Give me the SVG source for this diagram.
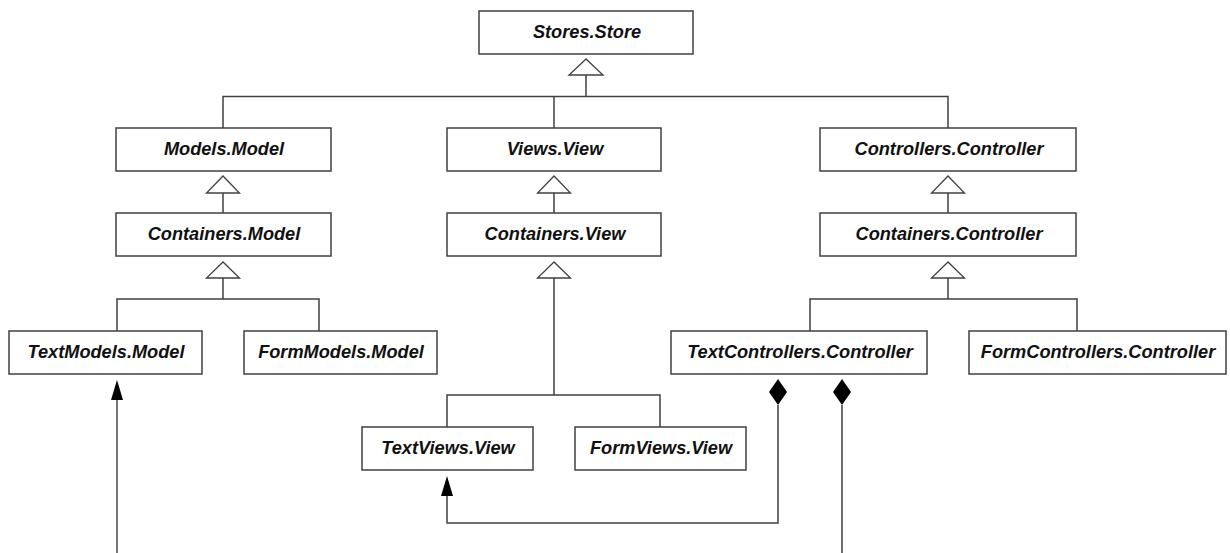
<svg xmlns="http://www.w3.org/2000/svg" width="1230" height="553" viewBox="0 0 1230 553">
  <style>
    .box rect { fill: #ffffff; stroke: #404040; stroke-width: 1.5; }
    .box text { font-family: "Liberation Sans", Arial, sans-serif; font-size: 18.2px; font-weight: bold; font-style: italic; fill: #111111; text-anchor: middle; }
    .line { fill: none; stroke: #404040; stroke-width: 1.5; }
    .thin { fill: none; stroke: #1a1a1a; stroke-width: 1.2; }
    .gen { fill: #ffffff; stroke: #404040; stroke-width: 1.3; }
    .head { fill: #000000; stroke: none; }
  </style>
  <rect width="1230" height="553" fill="#ffffff"/>

  <!-- connectors -->
  <g id="connectors">
    <!-- Stores.Store generalisation tree -->
    <polyline class="line" points="586,75 586,96.5"/>
    <polyline class="line" points="223,128 223,96.5 948,96.5 948,128"/>
    <polyline class="line" points="554,96.5 554,128"/>
    <polygon class="gen" points="586,59 569,75 603,75"/>

    <!-- Models chain -->
    <polyline class="line" points="223,193 223,213"/>
    <polygon class="gen" points="223,176 206.5,193 239.5,193"/>
    <polyline class="line" points="223,278 223,299"/>
    <polyline class="line" points="117,331 117,299 319,299 319,331"/>
    <polygon class="gen" points="223,262 206.5,278 239.5,278"/>

    <!-- Views chain -->
    <polyline class="line" points="554,193 554,213"/>
    <polygon class="gen" points="554,176 537.5,193 570.5,193"/>
    <polyline class="line" points="554,278 554,395"/>
    <polyline class="line" points="447,427 447,395 660,395 660,427"/>
    <polygon class="gen" points="554,262 537.5,278 570.5,278"/>

    <!-- Controllers chain -->
    <polyline class="line" points="948,193 948,213"/>
    <polygon class="gen" points="948,176 931.5,193 964.5,193"/>
    <polyline class="line" points="948,278 948,299"/>
    <polyline class="line" points="810,331 810,299 1077,299 1077,331"/>
    <polygon class="gen" points="948,262 931.5,278 964.5,278"/>

    <!-- association into TextModels.Model -->
    <polyline class="thin" points="117,553 117,398"/>
    <polygon class="head" points="117,380 111,400 123,400"/>

    <!-- composition: TextControllers.Controller to TextViews.View -->
    <polyline class="line" points="778,405 778,523 447,523 447,494"/>
    <polygon class="head" points="447,476 441,496 453,496"/>
    <polygon class="head" points="778,379 769,392 778,405 787,392"/>

    <!-- composition: TextControllers.Controller downward -->
    <polyline class="line" points="842,405 842,553"/>
    <polygon class="head" points="842,379 833,392 842,405 851,392"/>
  </g>

  <!-- nodes -->
  <g id="stores-store" class="box">
    <rect x="479" y="11" width="214" height="43"/>
    <text x="587" y="38">Stores.Store</text>
  </g>
  <g id="models-model" class="box">
    <rect x="116" y="128" width="215" height="43"/>
    <text x="224" y="155">Models.Model</text>
  </g>
  <g id="containers-model" class="box">
    <rect x="116" y="213" width="215" height="43"/>
    <text x="224" y="240">Containers.Model</text>
  </g>
  <g id="textmodels-model" class="box">
    <rect x="9" y="331" width="193" height="43"/>
    <text x="106" y="358">TextModels.Model</text>
  </g>
  <g id="formmodels-model" class="box">
    <rect x="244" y="331" width="193" height="43"/>
    <text x="341" y="358">FormModels.Model</text>
  </g>
  <g id="views-view" class="box">
    <rect x="447" y="128" width="214" height="43"/>
    <text x="555" y="155">Views.View</text>
  </g>
  <g id="containers-view" class="box">
    <rect x="447" y="213" width="214" height="43"/>
    <text x="555" y="240">Containers.View</text>
  </g>
  <g id="textviews-view" class="box">
    <rect x="362" y="427" width="171" height="43"/>
    <text x="448" y="454">TextViews.View</text>
  </g>
  <g id="formviews-view" class="box">
    <rect x="575" y="427" width="171" height="43"/>
    <text x="661" y="454">FormViews.View</text>
  </g>
  <g id="controllers-controller" class="box">
    <rect x="820" y="128" width="256" height="43"/>
    <text x="949" y="155">Controllers.Controller</text>
  </g>
  <g id="containers-controller" class="box">
    <rect x="820" y="213" width="256" height="43"/>
    <text x="949" y="240">Containers.Controller</text>
  </g>
  <g id="textcontrollers-controller" class="box">
    <rect x="671" y="331" width="256" height="43"/>
    <text x="800" y="358">TextControllers.Controller</text>
  </g>
  <g id="formcontrollers-controller" class="box">
    <rect x="969" y="331" width="257" height="43"/>
    <text x="1098" y="358">FormControllers.Controller</text>
  </g>
</svg>
